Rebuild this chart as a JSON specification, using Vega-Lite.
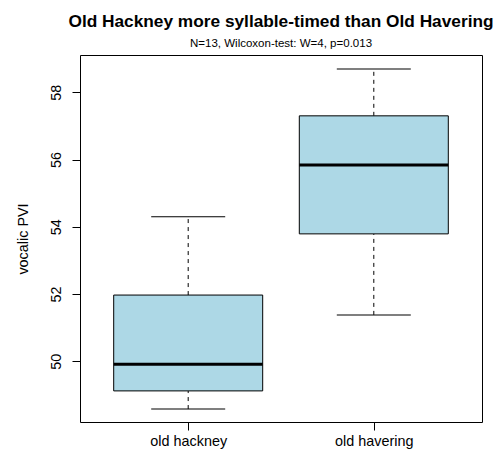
{
  "$schema": "https://vega.github.io/schema/vega-lite/v6.json",
  "width": 402,
  "height": 367,
  "autosize": {"type": "none"},
  "padding": {"left": 80, "top": 55, "right": 14, "bottom": 33},
  "background": "white",
  "title": {
    "text": "Old Hackney more syllable-timed than Old Havering",
    "subtitle": "N=13, Wilcoxon-test: W=4, p=0.013",
    "anchor": "middle",
    "font": "Liberation Sans",
    "fontSize": 17.28,
    "fontWeight": "bold",
    "color": "black",
    "subtitleFont": "Liberation Sans",
    "subtitleFontSize": 11.52,
    "subtitleColor": "black",
    "subtitlePadding": 8,
    "offset": 5
  },
  "data": {
    "values": [
      {"group": "old hackney", "lower": 48.58, "q1": 49.12, "median": 49.91, "q3": 51.97, "upper": 54.3},
      {"group": "old havering", "lower": 51.38, "q1": 53.79, "median": 55.84, "q3": 57.3, "upper": 58.69}
    ]
  },
  "encoding": {
    "x": {
      "field": "group",
      "type": "nominal",
      "sort": null,
      "scale": {"type": "point", "padding": 0.583},
      "axis": {
        "title": null,
        "domain": false,
        "grid": false,
        "labelAngle": 0,
        "labelFont": "Liberation Sans",
        "labelFontSize": 14.4,
        "labelColor": "black",
        "tickColor": "black",
        "tickSize": 8,
        "labelPadding": 4
      }
    }
  },
  "layer": [
    {
      "mark": {"type": "rule", "strokeDash": [4, 4], "color": "black", "strokeWidth": 1},
      "encoding": {
        "y": {
          "field": "q3",
          "type": "quantitative",
          "scale": {"domain": [48.195, 59.109], "nice": false, "zero": false},
          "axis": {
            "title": "vocalic PVI",
            "values": [50, 52, 54, 56, 58],
            "domain": false,
            "grid": false,
            "labelAngle": -90,
            "labelAlign": "center",
            "labelBaseline": "bottom",
            "labelFont": "Liberation Sans",
            "labelFontSize": 14.4,
            "labelColor": "black",
            "labelPadding": 9,
            "tickColor": "black",
            "tickSize": 8,
            "titleFont": "Liberation Sans",
            "titleFontSize": 14.4,
            "titleFontWeight": "normal",
            "titleColor": "black",
            "titlePadding": 18
          }
        },
        "y2": {"field": "upper"}
      }
    },
    {
      "mark": {"type": "rule", "strokeDash": [4, 4], "color": "black", "strokeWidth": 1},
      "encoding": {
        "y": {"field": "lower", "type": "quantitative"},
        "y2": {"field": "q1"}
      }
    },
    {
      "mark": {"type": "tick", "size": 74, "thickness": 1, "color": "black", "opacity": 1},
      "encoding": {"y": {"field": "upper", "type": "quantitative"}}
    },
    {
      "mark": {"type": "tick", "size": 74, "thickness": 1, "color": "black", "opacity": 1},
      "encoding": {"y": {"field": "lower", "type": "quantitative"}}
    },
    {
      "mark": {"type": "bar", "size": 149, "fill": "#ADD8E6", "stroke": "black", "strokeWidth": 1},
      "encoding": {
        "y": {"field": "q1", "type": "quantitative"},
        "y2": {"field": "q3"}
      }
    },
    {
      "mark": {"type": "tick", "size": 149, "thickness": 3, "color": "black", "opacity": 1},
      "encoding": {"y": {"field": "median", "type": "quantitative"}}
    }
  ],
  "config": {
    "view": {"stroke": "black", "strokeWidth": 1},
    "font": "Liberation Sans"
  }
}
